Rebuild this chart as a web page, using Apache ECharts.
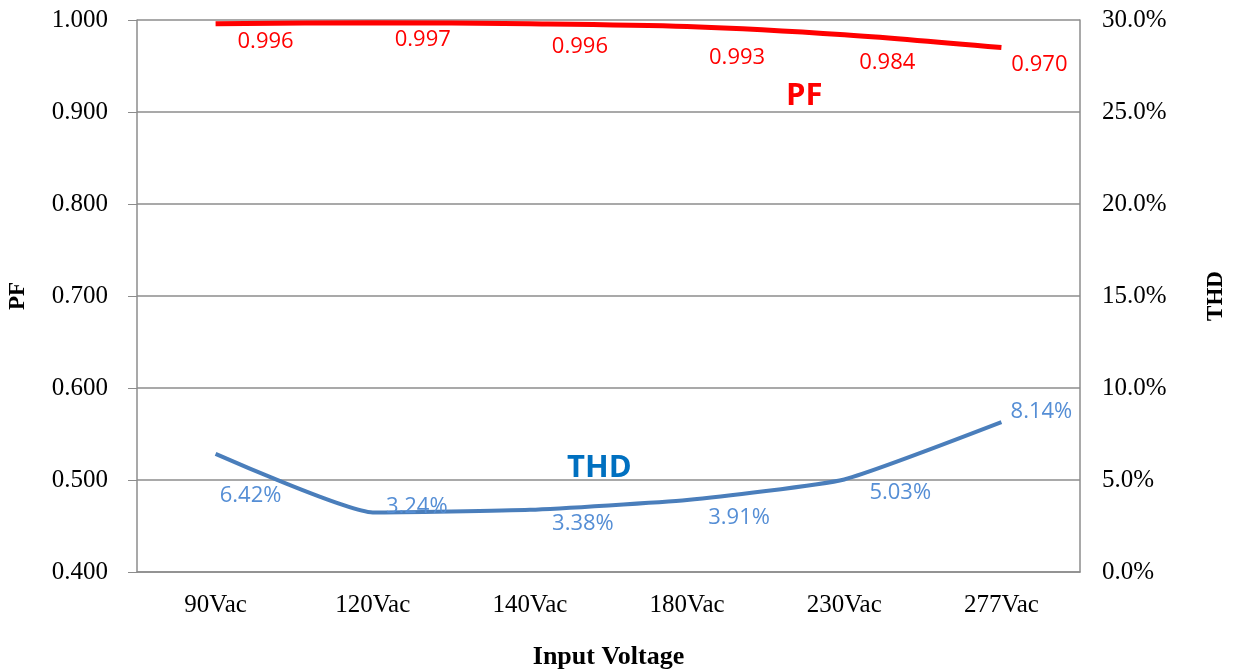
<!DOCTYPE html>
<html>
<head>
<meta charset="utf-8">
<script src="https://cdn.jsdelivr.net/npm/echarts@6/dist/echarts.min.js"></script>
<style>
  html, body { margin: 0; padding: 0; background: #fff; }
  #chart { width: 1234px; height: 671px; }
</style>
</head>
<body>
<div id="chart"></div>
<script>
// data
var voltages = ['90Vac', '120Vac', '140Vac', '180Vac', '230Vac', '277Vac']
var pfValues = [0.996, 0.997, 0.996, 0.993, 0.984, 0.970]
var thdValues = [6.42, 3.24, 3.38, 3.91, 5.03, 8.14]  // percent

var serif = '"Liberation Serif", "DejaVu Serif", serif'
var sans = '"Open Sans", "Noto Sans", sans-serif'
var gridColor = '#8c8c8c'

// label offsets (Excel placed the data labels by hand)
var pfLabelShift = [[50, 2], [50, 1], [50, 7], [50, 15], [43, 12], [38, 1]]
var thdLabelShift = [[35, 42], [44, -6], [53, 14], [52, 18], [56, 13], [40, -10]]

const chart = echarts.init(document.getElementById('chart'))
const option = {
    animation: false,
    grid: { left: 137, right: 154, top: 20, bottom: 99, outerBoundsMode: 'none', containLabel: false },
    xAxis: {
        type: 'category',
        data: voltages,
        boundaryGap: true,
        name: 'Input Voltage',
        nameLocation: 'middle',
        nameGap: 72,
        nameTextStyle: { fontFamily: serif, fontWeight: 'bold', fontSize: 26, color: '#000' },
        axisTick: { show: false },
        axisLine: { lineStyle: { color: gridColor, width: 1.5 } },
        axisLabel: { fontFamily: serif, fontSize: 25, color: '#000', margin: 21 }
    },
    yAxis: [
        {
            type: 'value',
            min: 0.4,
            max: 1.0,
            interval: 0.1,
            name: 'PF',
            nameLocation: 'middle',
            nameGap: 107,
            nameRotate: 90,
            nameTextStyle: { fontFamily: serif, fontWeight: 'bold', fontSize: 23, color: '#000' },
            axisLine: { show: true, lineStyle: { color: gridColor, width: 1.5 } },
            axisTick: { show: true, length: 9, lineStyle: { color: gridColor } },
            splitLine: { lineStyle: { color: gridColor, width: 1.5 } },
            axisLabel: {
                fontFamily: serif, fontSize: 25, color: '#000', margin: 29,
                formatter: function (v) { return v.toFixed(3) }
            }
        },
        {
            type: 'value',
            min: 0,
            max: 30,
            interval: 5,
            name: 'THD',
            nameLocation: 'middle',
            nameGap: 125,
            nameRotate: 90,
            nameTextStyle: { fontFamily: serif, fontWeight: 'bold', fontSize: 23, color: '#000' },
            axisLine: { show: true, lineStyle: { color: gridColor, width: 1.5 } },
            axisTick: { show: false },
            splitLine: { show: false },
            axisLabel: {
                fontFamily: serif, fontSize: 25, color: '#000', margin: 22,
                formatter: function (v) { return v.toFixed(1) + '%' }
            }
        }
    ],
    series: [
        {
            name: 'PF',
            type: 'line',
            yAxisIndex: 0,
            data: pfValues.map(function (v, i) {
                return { value: v, label: { offset: pfLabelShift[i] } }
            }),
            smooth: 0.3,
            symbol: 'circle',
            symbolSize: 0,
            showSymbol: true,
            lineStyle: { color: '#ff0000', width: 5 },
            itemStyle: { color: '#ff0000' },
            label: {
                show: true,
                position: 'bottom',
                fontFamily: sans,
                fontSize: 22,
                color: '#ff0000',
                formatter: function (p) { return p.value.toFixed(3) }
            }
        },
        {
            name: 'THD',
            type: 'line',
            yAxisIndex: 1,
            data: thdValues.map(function (v, i) {
                return { value: v, label: { offset: thdLabelShift[i] } }
            }),
            smooth: 0.15,
            symbol: 'circle',
            symbolSize: 0,
            showSymbol: true,
            lineStyle: { color: '#4a7ebb', width: 4 },
            itemStyle: { color: '#4a7ebb' },
            label: {
                show: true,
                position: 'inside',
                fontFamily: sans,
                fontSize: 22,
                color: '#558ed5',
                formatter: function (p) { return p.value.toFixed(2) + '%' }
            }
        }
    ],
    graphic: [
        {
            type: 'text', left: 786, top: 81,
            style: { text: 'PF', fontFamily: sans, fontWeight: 'bold', fontSize: 31, fill: '#ff0000' }
        },
        {
            type: 'text', left: 567, top: 453,
            style: { text: 'THD', fontFamily: sans, fontWeight: 'bold', fontSize: 31, fill: '#0070c0' }
        }
    ]
}
chart.setOption(option)
</script>
</body>
</html>
